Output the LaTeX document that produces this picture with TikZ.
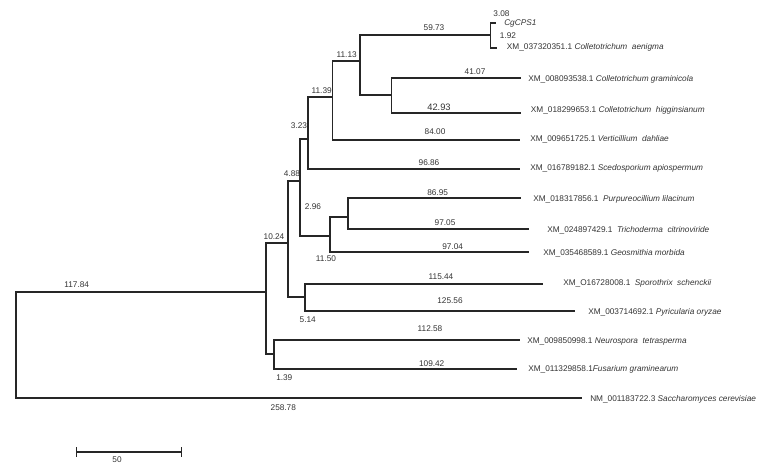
\documentclass[tikz,border=0pt]{standalone}
\usepackage{fontspec}
\setmainfont{Liberation Sans}
\usetikzlibrary{arrows.meta}

\tikzset{
  branch/.style={line width=1pt, black!85},
  lab/.style={font=\fontsize{6.2}{7}\selectfont, inner sep=0pt, text=black!80},
  taxon/.style={lab, anchor=west}
}

\begin{document}
\begin{tikzpicture}[x=0.75pt, y=-0.75pt]
    \useasboundingbox (0,0) rectangle (767,468);

    % Internal nodes of the tree
    \coordinate (root) at (16,345);
    \coordinate (nA) at (266,292);
    \coordinate (nB) at (288,243);
    \coordinate (nC) at (274,354);
    \coordinate (nD) at (300,181);
    \coordinate (nE) at (305,297);
    \coordinate (nF) at (308,139);
    \coordinate (nG) at (330,236);
    \coordinate (nH) at (332.7,97);
    \coordinate (nI) at (360,61);
    \coordinate (nJ) at (490.7,35);
    \coordinate (nK) at (391.3,95);
    \coordinate (nL) at (348,217);

    % Tips of the tree
    \coordinate (lCg) at (496,23);
    \coordinate (lAen) at (497,48);
    \coordinate (lGra) at (521,78);
    \coordinate (lHig) at (521,113);
    \coordinate (lVer) at (520,140);
    \coordinate (lSce) at (520,169);
    \coordinate (lPur) at (521,198);
    \coordinate (lTri) at (529,229);
    \coordinate (lGeo) at (529,252);
    \coordinate (lSpo) at (543,284);
    \coordinate (lPyr) at (575,311);
    \coordinate (lNeu) at (520,340);
    \coordinate (lFus) at (517,369);
    \coordinate (lSac) at (582,398);

    % Draw the branches
    \foreach \p/\c in {root/nA, root/lSac, nA/nB, nA/nC, nB/nD, nB/nE,
        nD/nF, nD/nG, nF/nH, nF/lSce, nH/nI, nH/lVer, nI/nJ, nI/nK,
        nJ/lCg, nJ/lAen, nK/lGra, nK/lHig, nG/nL, nG/lGeo, nL/lPur,
        nL/lTri, nE/lSpo, nE/lPyr, nC/lNeu, nC/lFus}
        \draw[branch] (\p) |- (\c);

    % Label the tips
    \node[taxon] (tCg) at (504,23) {\textit{CgCPS1}};
    \node[taxon] (tAen) at (506.7,47) {XM\_037320351.1 \textit{Colletotrichum~~aenigma}};
    \node[taxon] (tGra) at (528,79) {XM\_008093538.1 \textit{Colletotrichum graminicola}};
    \node[taxon] (tHig) at (530.7,110) {XM\_018299653.1 \textit{Colletotrichum~~higginsianum}};
    \node[taxon] (tVer) at (530,139) {XM\_009651725.1 \textit{Verticillium~~dahliae}};
    \node[taxon] (tSce) at (530,168) {XM\_016789182.1 \textit{Scedosporium apiospermum}};
    \node[taxon] (tPur) at (533,199) {XM\_018317856.1~~\textit{Purpureocillium lilacinum}};
    \node[taxon] (tTri) at (547,230) {XM\_024897429.1~~\textit{Trichoderma~~citrinoviride}};
    \node[taxon] (tGeo) at (543,253) {XM\_035468589.1 \textit{Geosmithia morbida}};
    \node[taxon] (tSpo) at (563,283) {XM\_O16728008.1~~\textit{Sporothrix~~schenckii}};
    \node[taxon] (tPyr) at (588,312) {XM\_003714692.1 \textit{Pyricularia oryzae}};
    \node[taxon] (tNeu) at (527,341) {XM\_009850998.1 \textit{Neurospora~~tetrasperma}};
    \node[taxon] (tFus) at (528,369) {XM\_011329858.1\textit{Fusarium graminearum}};
    \node[taxon] (tSac) at (590,399) {NM\_001183722.3 \textit{Saccharomyces cerevisiae}};

    % Branch lengths
    \node[lab] (b308) at (501.5,14) {3.08};
    \node[lab] (b192) at (508,36) {1.92};
    \node[lab] (b5973) at (434,28) {59.73};
    \node[lab] (b1113) at (346.7,55) {11.13};
    \node[lab] (b1139) at (321.7,91) {11.39};
    \node[lab] (b4107) at (475,72) {41.07};
    \node[lab, font=\fontsize{7}{8}\selectfont] (b4293) at (439,107) {42.93};
    \node[lab] (b8400) at (435,132) {84.00};
    \node[lab] (b323) at (299,125.7) {3.23};
    \node[lab] (b9686) at (429,163) {96.86};
    \node[lab] (b488) at (292,174) {4.88};
    \node[lab] (b8695) at (437.7,192.7) {86.95};
    \node[lab] (b296) at (313,206.7) {2.96};
    \node[lab] (b9705) at (445,222.7) {97.05};
    \node[lab] (b9704) at (452.7,246.7) {97.04};
    \node[lab] (b1150) at (326,259) {11.50};
    \node[lab] (b1024) at (274,236.7) {10.24};
    \node[lab] (b11544) at (441,276.7) {115.44};
    \node[lab] (b12556) at (450,300.7) {125.56};
    \node[lab] (b514) at (307.7,319.3) {5.14};
    \node[lab] (b11258) at (430,328.3) {112.58};
    \node[lab] (b10942) at (431.7,363.3) {109.42};
    \node[lab] (b139) at (284.3,377.7) {1.39};
    \node[lab] (b11784) at (76.7,284.3) {117.84};
    \node[lab] (b25878) at (283.3,407.7) {258.78};

    % Scale bar
    \coordinate (sbL) at (76,452);
    \coordinate (sbR) at (182,452);
    \draw[branch, {Bar[width=7pt]}-{Bar[width=7pt]}] (sbL) -- (sbR);
    \node[lab] (sb50) at (117,460) {50};
\end{tikzpicture}
\end{document}
